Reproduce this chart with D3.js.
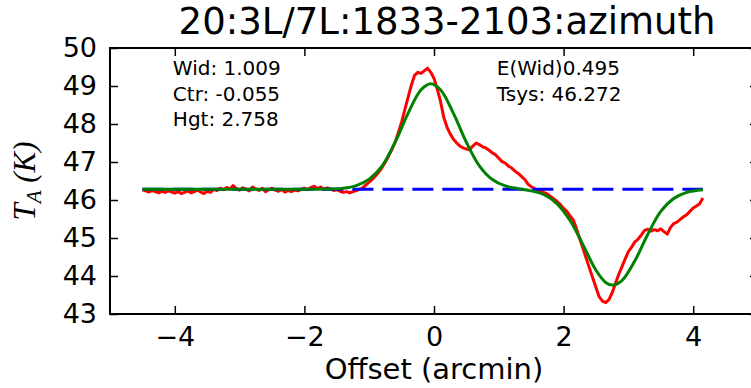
<!DOCTYPE html>
<html>
<head>
<meta charset="utf-8">
<script src="https://cdn.jsdelivr.net/npm/d3@7"></script>
<style>
  body { margin: 0; background: #fff; }
  text { font-family: "DejaVu Sans", sans-serif; fill: #000; }
</style>
</head>
<body>
<svg id="chart"></svg>
<script>
// measured spectrum (red), rows of 10 samples, 0.05 arcmin apart from -4.5
const redStart = -4.5;
const redStep = 0.05;
const taRed = [
  46.27, 46.24, 46.21, 46.25, 46.22, 46.19, 46.23, 46.20, 46.24, 46.21,
  46.18, 46.22, 46.17, 46.20, 46.24, 46.19, 46.22, 46.26, 46.21, 46.17,
  46.23, 46.20, 46.28, 46.25, 46.31, 46.27, 46.33, 46.29, 46.38, 46.30,
  46.26, 46.32, 46.28, 46.24, 46.34, 46.29, 46.25, 46.31, 46.22, 46.27,
  46.31, 46.26, 46.23, 46.28, 46.21, 46.25, 46.22, 46.26, 46.24, 46.28,
  46.31, 46.27, 46.33, 46.36, 46.30, 46.34, 46.28, 46.32, 46.29, 46.25,
  46.27, 46.23, 46.20, 46.22, 46.19, 46.22, 46.25, 46.28, 46.32, 46.40,
  46.47, 46.55, 46.64, 46.74, 46.86, 47.00, 47.16, 47.33, 47.52, 47.78,
  48.05, 48.38, 48.70, 49.02, 49.28, 49.36, 49.33, 49.40, 49.47, 49.36,
  49.20, 48.92, 48.60, 48.18, 47.92, 47.74, 47.60, 47.50, 47.42, 47.37,
  47.34, 47.32, 47.42, 47.50, 47.46, 47.40, 47.37, 47.31, 47.24, 47.19,
  47.10, 47.01, 46.97, 46.89, 46.84, 46.76, 46.70, 46.62, 46.54, 46.42,
  46.35, 46.30, 46.26, 46.24, 46.19, 46.16, 46.09, 46.03, 45.96, 45.88,
  45.78, 45.70, 45.58, 45.47, 45.24, 44.98, 44.72, 44.46, 44.20, 43.95,
  43.70, 43.45, 43.34, 43.30, 43.38, 43.56, 43.80, 44.04, 44.24, 44.45,
  44.64, 44.76, 44.90, 44.97, 45.08, 45.20, 45.23, 45.18, 45.22, 45.19,
  45.24, 45.17, 45.10, 45.28, 45.38, 45.42, 45.49, 45.56, 45.61, 45.70,
  45.79, 45.84, 45.90, 46.05
];

// fitted curve (green)
const offsetFit = [-4.5, -3.0, -2.0, -1.6, -1.4, -1.2, -1.0, -0.8, -0.6, -0.4, -0.2, -0.05,
  0.1, 0.3, 0.5, 0.7, 0.9, 1.1, 1.3, 1.5, 1.7, 1.9, 2.1, 2.3, 2.5, 2.65, 2.75,
  2.9, 3.1, 3.3, 3.5, 3.7, 3.9, 4.15];
const taFit = [46.28, 46.28, 46.28, 46.29, 46.31, 46.38, 46.55, 46.90, 47.52, 48.28, 48.90, 49.06,
  48.90, 48.28, 47.52, 46.90, 46.54, 46.37, 46.30, 46.24, 46.14, 45.90, 45.46, 44.82, 44.15, 43.83, 43.76,
  43.88, 44.40, 45.10, 45.70, 46.04, 46.20, 46.27];

// baseline (blue dashed)
const baseOffset = [-4.5, 4.15];
const baseTa = [46.28, 46.28];

const xTicks = [-4, -2, 0, 2, 4];
const yTicks = [43, 44, 45, 46, 47, 48, 49, 50];

const titleText = "20:3L/7L:1833-2103:azimuth";
const leftNotes = ["Wid: 1.009", "Ctr: -0.055", "Hgt: 2.758"];
const rightNotes = ["E(Wid)0.495", "Tsys: 46.272"];

const width = 751;
const height = 388;
const margin = { top: 48, left: 110, bottom: 74 };
const plotRight = 758;

const svg = d3.select("#chart").attr("width", width).attr("height", height);

const x = d3.scaleLinear().domain([-5, 5]).range([margin.left, plotRight]);
const y = d3.scaleLinear().domain([43, 50]).range([height - margin.bottom, margin.top]);

const redData = taRed.map((t, i) => ({ x: redStart + i * redStep, y: t }));
const fitData = taFit.map((t, i) => ({ x: offsetFit[i], y: t }));
const baseData = baseTa.map((t, i) => ({ x: baseOffset[i], y: t }));

const plot = svg.append("g");

const line = d3.line().x((d) => x(d.x)).y((d) => y(d.y));

plot.append("path")
  .datum(redData)
  .attr("fill", "none")
  .attr("stroke", "#ff0000")
  .attr("stroke-width", 3)
  .attr("stroke-linejoin", "round")
  .attr("d", line);

plot.append("path")
  .datum(baseData)
  .attr("fill", "none")
  .attr("stroke", "#0000ff")
  .attr("stroke-width", 3)
  .attr("stroke-dasharray", "21,9")
  .attr("d", line);

plot.append("path")
  .datum(fitData)
  .attr("fill", "none")
  .attr("stroke", "#008000")
  .attr("stroke-width", 3)
  .attr("d", line.curve(d3.curveCatmullRom));

// axes, ticks pointing inward on all four sides
const axBottom = svg.append("g")
  .attr("transform", "translate(0," + y(43) + ")")
  .call(d3.axisBottom(x).tickValues(xTicks).tickSizeInner(-8).tickSizeOuter(0).tickPadding(13));
const axTop = svg.append("g")
  .attr("transform", "translate(0," + y(50) + ")")
  .call(d3.axisTop(x).tickValues(xTicks).tickSizeInner(-8).tickSizeOuter(0).tickFormat(""));
const axLeft = svg.append("g")
  .attr("transform", "translate(" + x(-5) + ",0)")
  .call(d3.axisLeft(y).tickValues(yTicks).tickSizeInner(-8).tickSizeOuter(0).tickPadding(13).tickFormat(d3.format("d")));
const axRight = svg.append("g")
  .attr("transform", "translate(" + x(5) + ",0)")
  .call(d3.axisRight(y).tickValues(yTicks).tickSizeInner(-8).tickSizeOuter(0).tickFormat(""));

[axBottom, axTop, axLeft, axRight].forEach((g) => {
  g.select(".domain").remove();
  g.selectAll(".tick line").attr("stroke", "#000").attr("stroke-width", 1.5);
  g.selectAll(".tick text").attr("fill", "#000").style("font-family", "DejaVu Sans").style("font-size", "27px");
});

svg.append("rect")
  .attr("x", x(-5))
  .attr("y", y(50))
  .attr("width", x(5) - x(-5))
  .attr("height", y(43) - y(50))
  .attr("fill", "none")
  .attr("stroke", "#000")
  .attr("stroke-width", 2);

// notes
svg.append("g").selectAll("text")
  .data(leftNotes)
  .join("text")
  .attr("x", x(-4.03))
  .attr("y", (d, i) => 75 + i * 25.5)
  .style("font-size", "20px")
  .text((d) => d);

svg.append("g").selectAll("text")
  .data(rightNotes)
  .join("text")
  .attr("x", x(0.97))
  .attr("y", (d, i) => 75 + i * 25.5)
  .style("font-size", "20px")
  .text((d) => d);

svg.append("text")
  .attr("x", 447)
  .attr("y", 34)
  .attr("text-anchor", "middle")
  .style("font-size", "37px")
  .text(titleText);

svg.append("text")
  .attr("x", 434)
  .attr("y", 379)
  .attr("text-anchor", "middle")
  .style("font-size", "29px")
  .text("Offset (arcmin)");

const ylab = svg.append("text")
  .attr("transform", "translate(35," + (y(46.5)) + ") rotate(-90)")
  .attr("text-anchor", "middle")
  .style("font-family", "Liberation Serif")
  .style("font-style", "italic")
  .style("font-size", "31px");
ylab.append("tspan").text("T");
ylab.append("tspan").attr("dy", 6).style("font-size", "21px").text("A");
ylab.append("tspan").attr("dy", -6).text(" (K)");
</script>
</body>
</html>
